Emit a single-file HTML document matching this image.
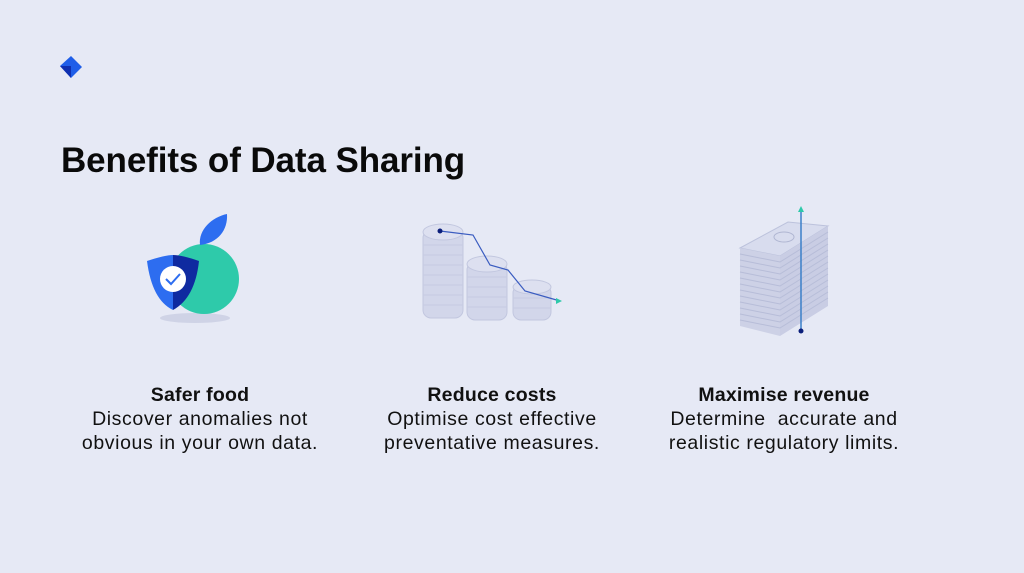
<!DOCTYPE html>
<html><head><meta charset="utf-8"><style>
body{margin:0;width:1024px;height:573px;background:#e6e9f5;font-family:"Liberation Sans",sans-serif;position:relative;overflow:hidden}
h1{position:absolute;left:61px;top:141px;margin:0;font-size:35px;font-weight:bold;color:#0a0a0a;letter-spacing:-0.1px}
.c{position:absolute;top:383px;width:340px;text-align:center;font-size:19.5px;line-height:24px;color:#111;letter-spacing:0.6px}
.c b{display:block;letter-spacing:0.2px}
</style></head><body>
<svg width="1024" height="573" style="position:absolute;left:0;top:0">
<polygon points="60,66 71,56 82,67 71,78" fill="#1f5ee8"/>
<polygon points="60,66 71,66 71,78" fill="#0f2fb0"/>
<ellipse cx="195" cy="318" rx="35" ry="5" fill="#cfd3e6"/>
<circle cx="204" cy="279" r="35" fill="#2ecaaa"/>
<path d="M200,245 C198,230 212,217 227,214 C228,230 218,243 200,245Z" fill="#2d6df0"/>
<path d="M147,261 Q165,255 173,255 L173,310 Q152,300 147,261Z" fill="#2d6df0"/>
<path d="M173,255 Q182,255 199,261 Q195,298 173,310Z" fill="#0f2aa0"/>
<circle cx="173" cy="279" r="13" fill="#fff"/>
<path d="M166,279 L171,284 L180,274" stroke="#2d6df0" stroke-width="2" fill="none"/>
<g fill="#d2d6ea" stroke="#c2c7df" stroke-width="1">
<rect x="423" y="230" width="40" height="88" rx="8"/>
<rect x="467" y="262" width="40" height="58" rx="8"/>
<rect x="513" y="285" width="38" height="35" rx="8"/>
<ellipse cx="443" cy="232" rx="20" ry="8" fill="#dde0f0"/>
<ellipse cx="487" cy="264" rx="20" ry="8" fill="#dde0f0"/>
<ellipse cx="532" cy="287" rx="19" ry="7" fill="#dde0f0"/>
</g>
<g stroke="#c6cbe2" stroke-width="1">
<path d="M423,245h40M423,255h40M423,265h40M423,275h40M423,285h40M423,295h40M423,305h40"/>
<path d="M467,277h40M467,287h40M467,297h40M467,307h40"/>
<path d="M513,298h38M513,308h38"/>
</g>
<polyline points="440,231 473,235 490,265 508,270 525,291 560,301" fill="none" stroke="#3a5cc0" stroke-width="1.2"/>
<circle cx="440" cy="231" r="2.5" fill="#0b1e7a"/>
<polygon points="556,298 562,301 556,304" fill="#2ec9aa"/>
<polygon points="740,248 788,222 828,226 780,256" fill="#d8dcee" stroke="#bcc2dc"/>
<polygon points="740,248 780,256 780,336 740,326" fill="#cdd1e6"/>
<polygon points="780,256 828,226 828,306 780,336" fill="#c9cde4"/>
<g stroke="#b7bdd8" stroke-width="1">
<path d="M740,254l40,8l48,-30M740,260l40,8l48,-30M740,266l40,8l48,-30M740,272l40,8l48,-30M740,278l40,8l48,-30M740,284l40,8l48,-30M740,290l40,8l48,-30M740,296l40,8l48,-30M740,302l40,8l48,-30M740,308l40,8l48,-30M740,314l40,8l48,-30M740,320l40,8l48,-30" fill="none"/>
</g>
<ellipse cx="784" cy="237" rx="10" ry="5" fill="none" stroke="#b0b6d2"/>
<line x1="801" y1="210" x2="801" y2="331" stroke="#3a7fc8" stroke-width="1.5"/>
<polygon points="798,212 801,206 804,212" fill="#2ec9aa"/>
<circle cx="801" cy="331" r="2.5" fill="#0b1e7a"/>
</svg>
<h1>Benefits of Data Sharing</h1>
<div class="c" style="left:30px"><b>Safer food</b>Discover anomalies not<br>obvious in your own data.</div>
<div class="c" style="left:322px"><b>Reduce costs</b>Optimise cost effective<br>preventative measures.</div>
<div class="c" style="left:614px"><b>Maximise revenue</b>Determine&nbsp; accurate and<br>realistic regulatory limits.</div>
</body></html>
